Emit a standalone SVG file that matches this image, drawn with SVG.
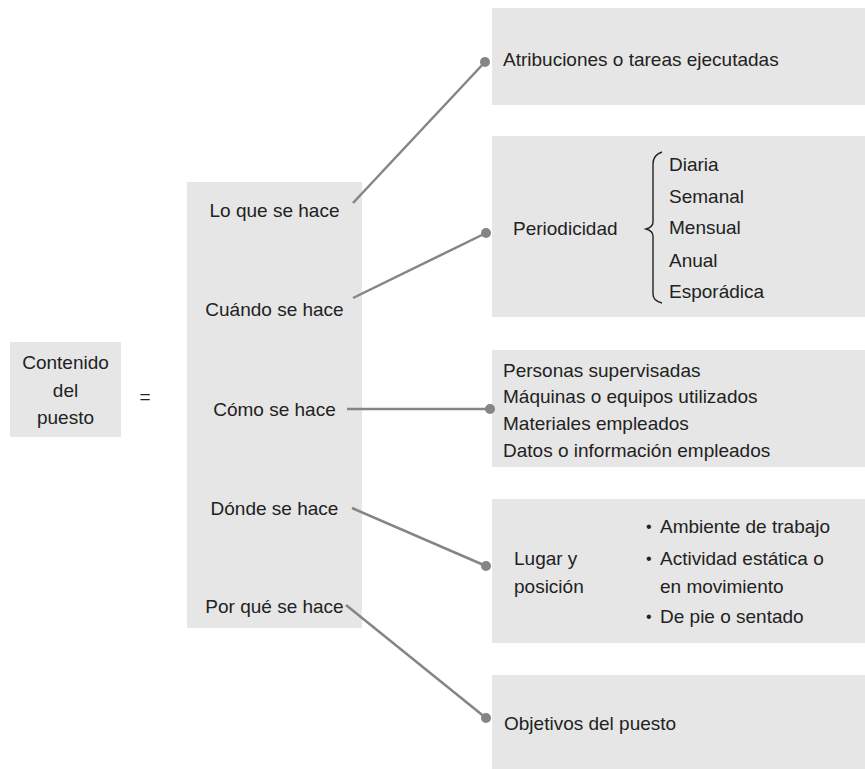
<svg xmlns="http://www.w3.org/2000/svg" width="865" height="769" viewBox="0 0 865 769">
<style>
.box{fill:#e6e6e6}
text{font-family:"Liberation Sans",Arial,sans-serif;font-size:19px;fill:#222}
.c{text-anchor:middle}
.ln{stroke:#858585;stroke-width:2.5;fill:none}
.dot{fill:#858585}
.brace{stroke:#222;stroke-width:1.4;fill:none}
.bul{font-size:16px}
</style>
<rect width="865" height="769" fill="#fff"/>
<g id="contenido">
<rect class="box" x="10" y="342" width="111" height="95"/>
<text class="c" x="65.5" y="369">Contenido</text>
<text class="c" x="65.5" y="397">del</text>
<text class="c" x="65.5" y="424">puesto</text>
</g>
<g id="igual"><text class="c" x="145" y="403">=</text></g>
<g id="aspectos">
<rect class="box" x="187" y="182" width="175" height="446"/>
<text class="c" x="274.5" y="217">Lo que se hace</text>
<text class="c" x="274.5" y="316">Cuándo se hace</text>
<text class="c" x="274.5" y="416">Cómo se hace</text>
<text class="c" x="274.5" y="515">Dónde se hace</text>
<text class="c" x="274.5" y="613">Por qué se hace</text>
</g>
<g id="atribuciones">
<rect class="box" x="492" y="8" width="373" height="97"/>
<text x="503" y="66">Atribuciones o tareas ejecutadas</text>
</g>
<g id="periodicidad">
<rect class="box" x="492" y="136" width="373" height="181"/>
<text x="513" y="235">Periodicidad</text>
<path class="brace" d="M662,152 Q653,155 653,164 L653,222 Q653,227 646,229 Q653,231 653,236 L653,294 Q653,301 662,303"/>
<text x="669" y="171">Diaria</text>
<text x="669" y="203">Semanal</text>
<text x="669" y="234">Mensual</text>
<text x="669" y="267">Anual</text>
<text x="669" y="298">Esporádica</text>
</g>
<g id="recursos">
<rect class="box" x="492" y="350" width="373" height="117"/>
<text x="503" y="377">Personas supervisadas</text>
<text x="503" y="403">Máquinas o equipos utilizados</text>
<text x="503" y="430">Materiales empleados</text>
<text x="503" y="457">Datos o información empleados</text>
</g>
<g id="lugar">
<rect class="box" x="492" y="499" width="373" height="144"/>
<text x="514" y="565">Lugar y</text>
<text x="514" y="593">posición</text>
<text class="bul" x="646" y="532">•</text>
<text x="660" y="533">Ambiente de trabajo</text>
<text class="bul" x="646" y="564">•</text>
<text x="660" y="565">Actividad estática o</text>
<text x="660" y="593">en movimiento</text>
<text class="bul" x="646" y="622">•</text>
<text x="660" y="623">De pie o sentado</text>
</g>
<g id="objetivos">
<rect class="box" x="492" y="675" width="373" height="94"/>
<text x="504" y="730">Objetivos del puesto</text>
</g>
<g id="connectors">
<line class="ln" x1="353" y1="203" x2="485" y2="62"/>
<circle class="dot" cx="485" cy="62" r="5"/>
<line class="ln" x1="353" y1="298" x2="486" y2="233"/>
<circle class="dot" cx="486" cy="233" r="5"/>
<line class="ln" x1="347" y1="409" x2="490" y2="409"/>
<circle class="dot" cx="490" cy="409" r="5"/>
<line class="ln" x1="352" y1="508" x2="486" y2="566"/>
<circle class="dot" cx="486" cy="566" r="5"/>
<line class="ln" x1="346" y1="605" x2="486" y2="718"/>
<circle class="dot" cx="486" cy="718" r="5"/>
</g>
</svg>
